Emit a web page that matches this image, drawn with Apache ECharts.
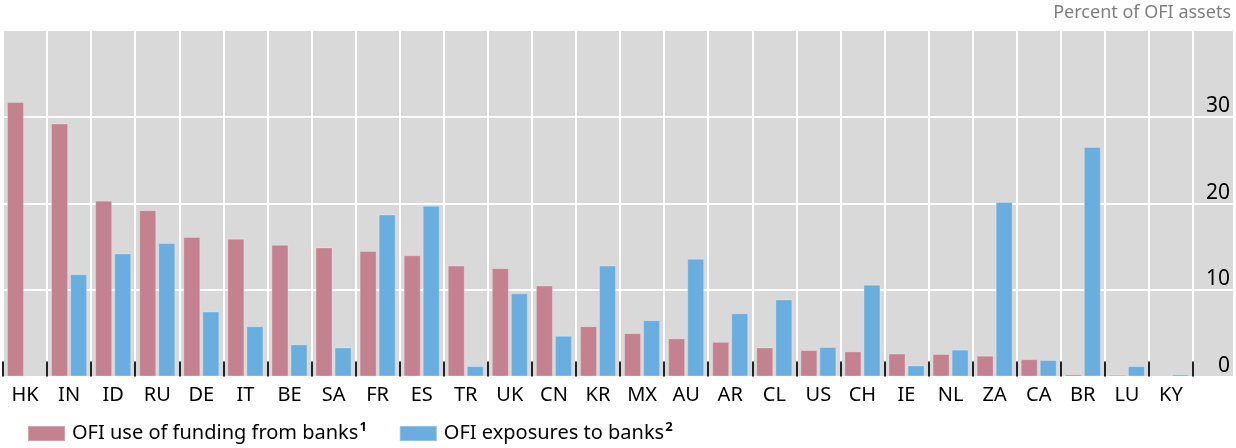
<!DOCTYPE html>
<html>
<head>
<meta charset="utf-8">
<script src="https://cdn.jsdelivr.net/npm/echarts@6/dist/echarts.min.js"></script>
<style>
    html, body { margin: 0; padding: 0; background: #fff; }
    #chart { width: 1236px; height: 448px; }
</style>
</head>
<body>
<div id="chart"></div>
<script>
    // countries, sorted by OFI use of funding from banks
    const categories = ['HK', 'IN', 'ID', 'RU', 'DE', 'IT', 'BE', 'SA', 'FR', 'ES', 'TR', 'UK', 'CN', 'KR',
        'MX', 'AU', 'AR', 'CL', 'US', 'CH', 'IE', 'NL', 'ZA', 'CA', 'BR', 'LU', 'KY'];
    // percent of OFI assets
    const funding = [31.7, 29.2, 20.3, 19.2, 16.1, 15.9, 15.2, 14.9, 14.5, 14.0, 12.8, 12.5, 10.5, 5.8,
        5.0, 4.4, 4.0, 3.35, 3.05, 2.9, 2.65, 2.6, 2.4, 2.0, 0.25, 0.2, null];
    const exposures = [null, 11.8, 14.2, 15.4, 7.5, 5.8, 3.7, 3.35, 18.7, 19.7, 1.2, 9.6, 4.7, 12.8,
        6.5, 13.6, 7.3, 8.9, 3.4, 10.6, 1.27, 3.1, 20.15, 1.9, 26.5, 1.2, 0.25];
    const yTicks = [0, 10, 20, 30];

    const seriesNames = ['OFI use of funding from banks', 'OFI exposures to banks'];
    const notes = {'OFI use of funding from banks': '1', 'OFI exposures to banks': '2'};

    const font = '"Noto Sans", "Open Sans", sans-serif';
    const bg = '#d9d9d9';

    let chart = echarts.init(document.getElementById('chart'));
    chart.setOption({
        animation: false,
        textStyle: { fontFamily: font },
        title: {
            text: 'Percent of OFI assets',
            right: 5,
            top: 4,
            padding: 0,
            textStyle: { fontSize: 18, fontWeight: 'normal', color: '#7f7f7f', fontFamily: font }
        },
        legend: {
            left: 22,
            top: 416,
            icon: 'rect',
            itemWidth: 37,
            itemHeight: 15,
            itemGap: 32,
            data: seriesNames,
            formatter: function (name) {
                return '{t|' + name + '}{s|' + notes[name] + '}';
            },
            textStyle: {
                color: '#000',
                fontFamily: font,
                rich: {
                    t: { fontSize: 20, color: '#000', fontFamily: font, padding: [0, 0, 0, 2] },
                    s: { fontSize: 13, color: '#000', fontWeight: 'bold', fontFamily: font, verticalAlign: 'top', padding: [0, 0, 12, 1] }
                }
            }
        },
        grid: [
            { left: 3, right: 43, top: 30, bottom: 71.5, show: true, backgroundColor: bg, borderWidth: 0 },
            { left: 1193, right: 3, top: 30, bottom: 71.5, show: true, backgroundColor: bg, borderWidth: 0 }
        ],
        xAxis: [{
            type: 'category',
            gridIndex: 0,
            data: categories,
            axisLine: { show: false },
            axisTick: { show: true, inside: true, length: 15, interval: 0, lineStyle: { color: '#222', width: 2 } },
            splitLine: { show: true, interval: 0, lineStyle: { color: '#fff', width: 2 } },
            axisLabel: { interval: 0, fontSize: 20, color: '#000', margin: 9, fontFamily: font }
        }, {
            type: 'category',
            gridIndex: 1,
            data: [''],
            show: false
        }],
        yAxis: [{
            type: 'value',
            gridIndex: 0,
            min: 0,
            max: 40,
            interval: 10,
            axisLine: { show: false },
            axisTick: { show: false },
            axisLabel: { show: false },
            splitLine: { show: true, lineStyle: { color: '#fff', width: 2 } }
        }, {
            type: 'value',
            gridIndex: 1,
            position: 'right',
            min: 0,
            max: 40,
            interval: 10,
            axisLine: { show: false },
            axisTick: { show: false },
            splitLine: { show: true, lineStyle: { color: '#fff', width: 2 } },
            axisLabel: {
                inside: true,
                margin: 3,
                fontSize: 21,
                color: '#000',
                fontFamily: font,
                verticalAlign: 'bottom',
                formatter: function (v) {
                    return yTicks.indexOf(v) >= 0 ? String(v) : '';
                }
            }
        }],
        series: [{
            name: seriesNames[0],
            type: 'bar',
            xAxisIndex: 0,
            yAxisIndex: 0,
            data: funding,
            barWidth: 17,
            barGap: '12%',
            itemStyle: { color: '#c4818f', borderColor: 'rgba(255,255,255,0.25)', borderWidth: 1 }
        }, {
            name: seriesNames[1],
            type: 'bar',
            xAxisIndex: 0,
            yAxisIndex: 0,
            data: exposures,
            barWidth: 17,
            barGap: '12%',
            itemStyle: { color: '#6aaee0', borderColor: 'rgba(255,255,255,0.25)', borderWidth: 1 }
        }]
    });
</script>
</body>
</html>
